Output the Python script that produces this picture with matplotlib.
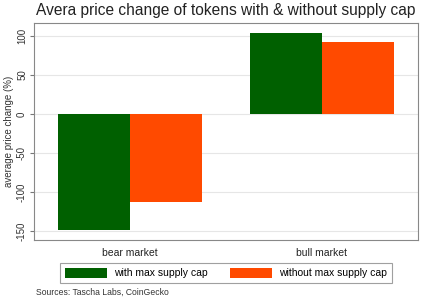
import matplotlib.pyplot as plt
import numpy as np

plt.rcParams['font.family'] = ['Liberation Sans', 'DejaVu Sans']

# data
markets = ['bear market', 'bull market']
with_cap = [-149, 104]
without_cap = [-113, 92]
series_names = ['with max supply cap', 'without max supply cap']
yticks = [-150, -100, -50, 0, 50, 100]

fig = plt.figure(figsize=(4.27, 3.0), dpi=100, facecolor='white')
ax = fig.add_axes([34/427, 60/300, 384/427, 217/300])

x = np.arange(len(markets))
w = 0.375
ax.bar(x - w/2, with_cap, w, color='#006000', label=series_names[0], zorder=3)
ax.bar(x + w/2, without_cap, w, color='#ff4a00', label=series_names[1], zorder=3)

ax.set_xlim(-0.5, 1.5)
ax.set_ylim(-161.5, 116.7)
ax.set_yticks(yticks)
ax.set_yticklabels([str(v) for v in yticks], rotation=90, va='center', fontsize=7, color='#333333')
ax.set_xticks(x)
ax.set_xticklabels(markets, fontsize=7.5, color='#222222')
ax.tick_params(axis='x', length=0, pad=6)
ax.tick_params(axis='y', length=3, color='#777777', pad=2)
ax.grid(axis='y', color='#e6e6e6', linewidth=0.8, zorder=0)
for s in ax.spines.values():
    s.set_color('#888888')
    s.set_linewidth(0.8)
ax.set_ylabel('average price change (%)', fontsize=7, color='#333333', labelpad=2)

fig.suptitle('Avera price change of tokens with & without supply cap', x=226/427, y=0.99,
             fontsize=11.2, color='#222222')

leg = fig.legend(loc='center', bbox_to_anchor=(226/427, 1 - 273/300), ncol=2, fontsize=7.5,
                 frameon=True, fancybox=False, edgecolor='#888888', handlelength=4,
                 handleheight=1.1, columnspacing=2.2, borderpad=0.5, handletextpad=0.7)
leg.get_frame().set_linewidth(0.8)

fig.text(36/427, 8/300, 'Sources: Tascha Labs, CoinGecko', fontsize=6.2, color='#333333', va='center')

fig.savefig('out.png', dpi=100, facecolor='white')
